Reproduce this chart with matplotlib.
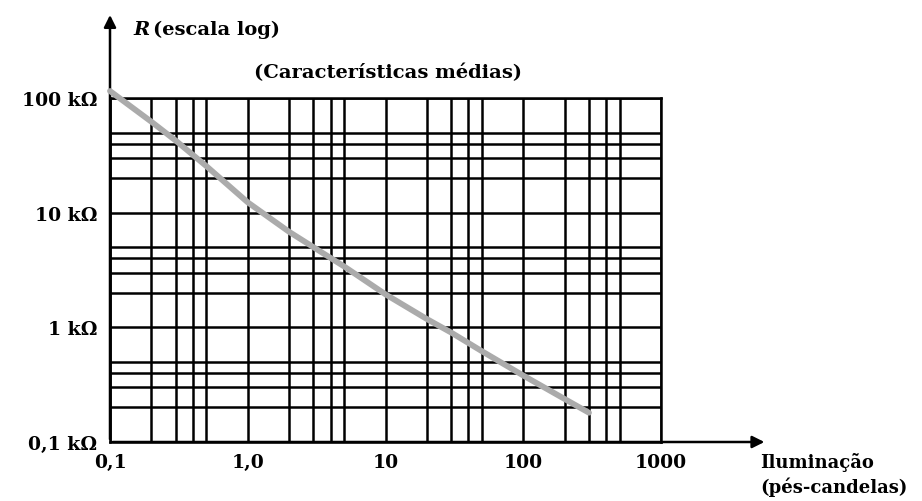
import matplotlib.pyplot as plt
from matplotlib.ticker import LogLocator, NullFormatter

# curva media R x iluminacao (R em kOhm, iluminacao em pes-candelas)
lum = [0.1, 0.2, 0.3, 0.5, 1, 2, 3, 5, 10, 20, 30, 50, 100, 200, 300]
r_k = [115, 62, 42.5, 25.5, 12.3, 6.8, 5.0, 3.4, 1.94, 1.18, 0.9, 0.62,
       0.38, 0.237, 0.18]

xticks = [0.1, 1, 10, 100, 1000]
xlabels = ['0,1', '1,0', '10', '100', '1000']
yticks = [0.1, 1, 10, 100]
ylabels = ['0,1 kΩ', '1 kΩ', '10 kΩ', '100 kΩ']

plt.rcParams['font.family'] = 'DejaVu Serif'
plt.rcParams['font.weight'] = 'bold'

fig = plt.figure(figsize=(9.22, 5.02), dpi=100)
ax = fig.add_axes([110 / 922, 59 / 502, 551 / 922, 344 / 502])
ax.set_xscale('log')
ax.set_yscale('log')
ax.set_xlim(0.1, 1000)
ax.set_ylim(0.1, 100)

ax.set_xticks(xticks)
ax.set_xticklabels(xlabels, fontsize=13.5, fontweight='bold')
ax.set_yticks(yticks)
ax.set_yticklabels(ylabels, fontsize=13.5, fontweight='bold')
for a in (ax.xaxis, ax.yaxis):
    a.set_minor_locator(LogLocator(base=10, subs=[2, 3, 4, 5]))
    a.set_minor_formatter(NullFormatter())
ax.tick_params(which='both', length=0)
ax.tick_params(axis='x', pad=8)
ax.tick_params(axis='y', pad=9)
ax.grid(which='both', color='black', lw=1.8)
for s in ax.spines.values():
    s.set_color('black')
    s.set_linewidth(1.8)

ax.plot(lum, r_k, color='#ababab', lw=4.2, solid_capstyle='round',
        solid_joinstyle='round', clip_on=False, zorder=5)

# eixos com setas
ax.annotate('', xy=(0.1, 560), xytext=(0.1, 0.1),
            arrowprops=dict(arrowstyle='-|>', color='black', lw=1.8,
                            mutation_scale=18),
            annotation_clip=False)
ax.annotate('', xy=(5900, 0.1), xytext=(0.1, 0.1),
            arrowprops=dict(arrowstyle='-|>', color='black', lw=1.8,
                            mutation_scale=18),
            annotation_clip=False)

fig.text(133 / 922, 1 - 30 / 502, 'R', fontsize=14, fontweight='bold',
         style='italic', va='center')
fig.text(153 / 922, 1 - 30 / 502, '(escala log)', fontsize=14,
         fontweight='bold', va='center')
fig.text(388 / 922, 1 - 73 / 502, '(Características médias)', fontsize=14,
         fontweight='bold', ha='center', va='center')
fig.text(760 / 922, 1 - 475 / 502, 'Iluminação\n(pés-candelas)', fontsize=13,
         fontweight='bold', ha='left', va='center', linespacing=1.3)

fig.savefig('out.png', dpi=100)
